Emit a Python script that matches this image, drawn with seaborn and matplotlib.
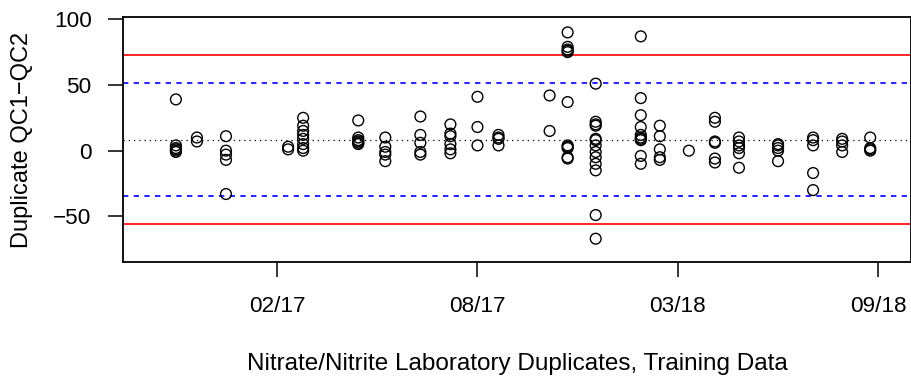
import numpy as np
import pandas as pd
import matplotlib
matplotlib.use("Agg")
import matplotlib.pyplot as plt
import seaborn as sns

# ---- data ----
sample_dates = ["2016-10-25", "2016-11-15", "2016-12-14", "2017-02-14", "2017-03-01",
                "2017-04-25", "2017-05-22", "2017-06-26", "2017-07-26", "2017-08-22",
                "2017-09-12", "2017-11-02", "2017-11-20", "2017-12-18", "2018-02-01",
                "2018-02-20", "2018-03-21", "2018-04-16", "2018-05-10", "2018-06-18",
                "2018-07-23", "2018-08-21", "2018-09-18"]
duplicate_diffs = [
    [39, 4, 2, 1, 0, -1],
    [10, 7],
    [11, 0, -3, -7, -33],
    [3, 1],
    [25, 19, 15, 12, 9, 5, 2, 0],
    [23, 10, 8, 7, 6, 5],
    [10, 3, -1, -3, -8],
    [26, 12, 6, -1, -3],
    [20, 13, 11, 5, 1, -2],
    [41, 18, 4],
    [12, 10, 9, 4],
    [42, 15],
    [90, 79, 77, 76, 75, 37, 4, 3, 2, -5, -6],
    [51, 22, 20, 19, 9, 8, 4, -1, -5, -10, -15, -49, -67],
    [87, 40, 27, 18, 12, 10, 9, 8, -4, -10],
    [19, 11, 1, -5, -7],
    [0],
    [25, 22, 7, 6, -6, -9],
    [10, 7, 4, 2, -2, -13],
    [5, 4, 2, 0, -8],
    [10, 8, 4, -17, -30],
    [9, 7, 4, -1],
    [10, 2, 1, 0],
]
center_line = 8.5
warning_limits = [51.5, -34.5]
control_limits = [73.0, -56.0]
tick_dates = ["2017-02-03", "2017-08-22", "2018-03-10", "2018-09-26"]
tick_labels = ["02/17", "08/17", "03/18", "09/18"]
y_ticks = [-50, 0, 50, 100]
x_range = ["2016-09-02 12:00", "2018-10-28 17:00"]
y_range = [-84.5, 101.5]

rows = []
for d, vals in zip(sample_dates, duplicate_diffs):
    for v in vals:
        rows.append((pd.Timestamp(d), v))
df = pd.DataFrame(rows, columns=["date", "diff"])

# ---- style ----
sns.set_theme(style="white")
plt.rcParams["font.family"] = ["Liberation Sans", "DejaVu Sans"]
plt.rcParams["axes.unicode_minus"] = True

W, H = 912, 379
fig = plt.figure(figsize=(W / 100, H / 100), dpi=100)
L, R, T, B = 123.3, 911.0, 17.3, 261.7
ax = fig.add_axes([L / W, 1 - B / H, (R - L) / W, (B - T) / H])

sns.scatterplot(data=df, x="date", y="diff", ax=ax, marker="o", s=60,
                facecolor="none", edgecolor="black", linewidth=1.0, zorder=3)

for yv in control_limits:
    ax.axhline(yv, color="#FF0000", lw=1.2, zorder=2)
for yv in warning_limits:
    ax.axhline(yv, color="#0000FF", lw=1.2, ls=(0, (3.2, 3.2)), zorder=2)
ax.axhline(center_line, color="black", lw=0.9, ls=(0, (1, 3.2)), zorder=2)

ax.set_xlim(pd.Timestamp(x_range[0]), pd.Timestamp(x_range[1]))
ax.set_ylim(*y_range)
ax.set_xticks([pd.Timestamp(t) for t in tick_dates])
ax.set_xticklabels(tick_labels)
ax.set_yticks(y_ticks)
ax.set_yticklabels([f"{t}".replace("-", "\u2212") for t in y_ticks])

ax.tick_params(axis="x", bottom=True, direction="out", length=10.5, width=1.1,
               pad=14.0, labelsize=16.2, colors="black")
ax.tick_params(axis="y", left=True, direction="out", length=10.8, width=1.1,
               pad=12.0, labelsize=16.2, colors="black")
for sp in ax.spines.values():
    sp.set_visible(True)
    sp.set_color("black")
    sp.set_linewidth(1.3)

ax.set_xlabel("Nitrate/Nitrite Laboratory Duplicates, Training Data", fontsize=17.5,
              color="black", va="baseline")
ax.xaxis.set_label_coords(((L + R) / 2 - L) / (R - L), (B - 370) / (B - T))
ax.set_ylabel("Duplicate QC1\u2212QC2", fontsize=17.0, color="black", va="center")
ax.yaxis.set_label_coords((22.5 - L) / (R - L), 0.5)
ax.grid(False)

fig.savefig("out.png", dpi=100)
